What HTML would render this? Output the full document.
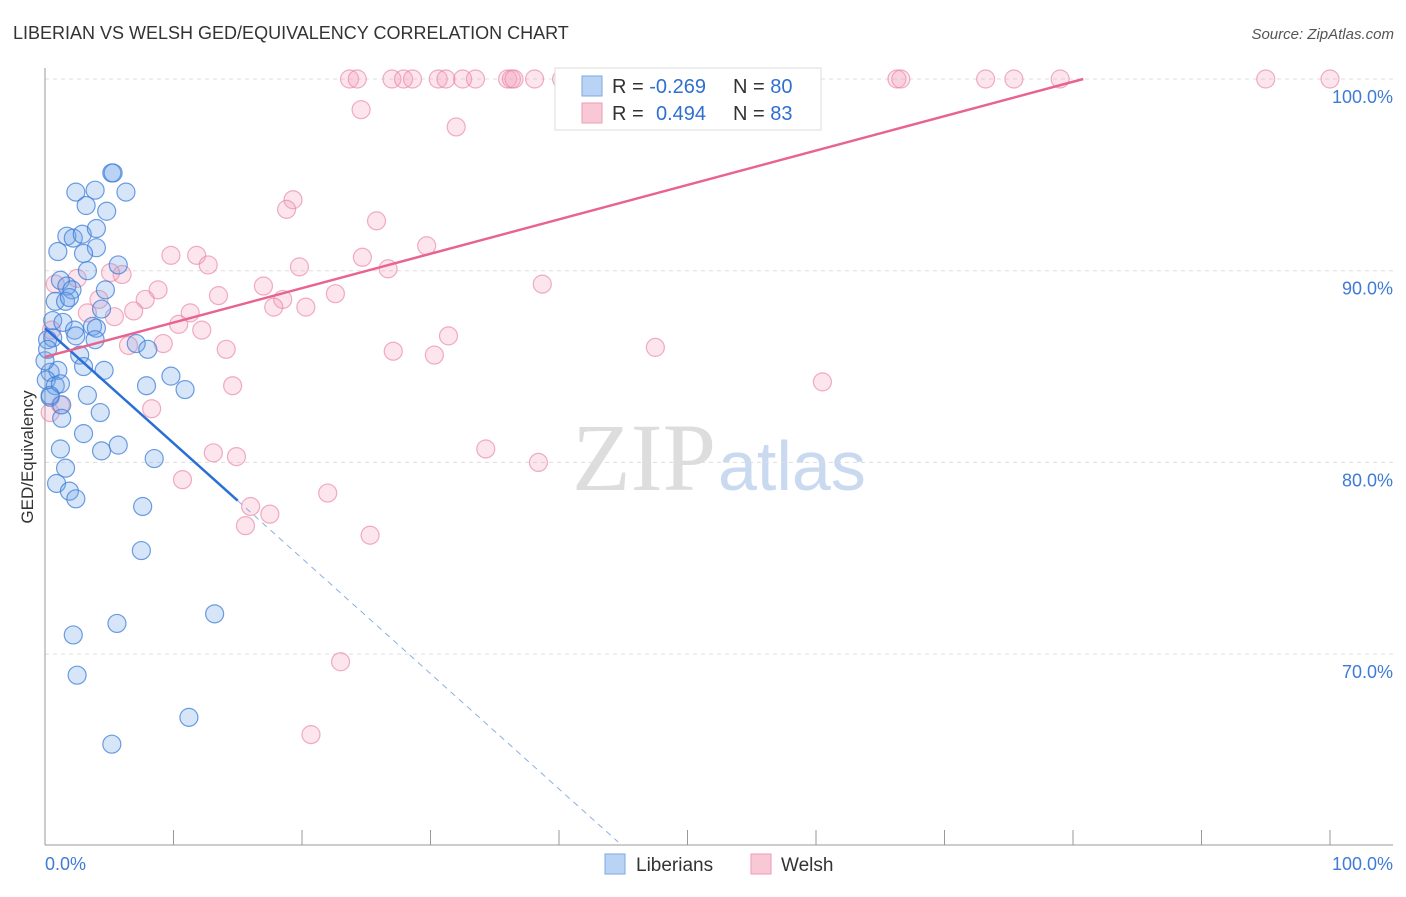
<!DOCTYPE html>
<html><head><meta charset="utf-8"><style>
body{margin:0;background:#fff;font-family:"Liberation Sans",sans-serif}
</style></head><body>
<svg id="chart" width="1406" height="892" viewBox="0 0 1406 892" xmlns="http://www.w3.org/2000/svg" font-family="Liberation Sans, sans-serif">
<text x="13" y="39" font-size="18" fill="#333">LIBERIAN VS WELSH GED/EQUIVALENCY CORRELATION CHART</text>
<text x="1394" y="39" font-size="15" fill="#555" text-anchor="end" font-style="italic">Source: ZipAtlas.com</text>
<text x="716" y="490" font-size="96" fill="#ddd" text-anchor="end" font-family="Liberation Serif, serif">ZIP</text>
<text x="718" y="490" font-size="70" fill="#c9daf0">atlas</text>
<g id="grid"></g>
<g id="axes"></g>
<g id="marks"></g>
<text transform="translate(33,457) rotate(-90)" font-size="17" fill="#333" text-anchor="middle">GED/Equivalency</text>
<g>
<rect x="555" y="68" width="266" height="62" fill="#fff" stroke="#ddd"/>
<rect x="582" y="76" width="20" height="20" fill="#b9d3f5" stroke="#7aa9e6"/>
<rect x="582" y="103" width="20" height="20" fill="#f9c8d6" stroke="#ee9ab4"/>
<text x="612" y="93" font-size="20" fill="#333">R = <tspan fill="#2f6fd0">-0.269</tspan><tspan x="733">N = </tspan><tspan fill="#2f6fd0">80</tspan></text>
<text x="612" y="120" font-size="20" fill="#333">R = <tspan x="656" fill="#2f6fd0">0.494</tspan><tspan x="733">N = </tspan><tspan fill="#2f6fd0">83</tspan></text>
</g>
<g>
<rect x="605" y="854" width="20" height="20" fill="#b9d3f5" stroke="#7aa9e6"/>
<text x="636" y="871" font-size="19" fill="#333">Liberians</text>
<rect x="751" y="854" width="20" height="20" fill="#f9c8d6" stroke="#ee9ab4"/>
<text x="781" y="871" font-size="19" fill="#333">Welsh</text>
</g>
</svg>
<script>
const blueX=[5.2,5.3,2.4,3.9,6.3,3.2,4.8,1.7,2.2,2.9,4.0,4.0,1.0,3.0,5.7,3.3,1.2,1.7,2.1,4.7,0.8,1.6,1.9,4.4,0.6,1.4,2.3,3.7,4.0,2.4,3.9,0.2,0.6,7.1,8.0,2.7,3.0,4.6,0.4,1.0,0.1,0.8,1.2,7.9,9.8,10.9,3.3,0.4,1.3,4.3,1.3,3.0,5.7,4.4,1.2,8.5,1.6,0.9,1.9,2.4,7.6,7.5,5.6,13.2,2.2,2.5,11.2,5.2,0,0.4,0.2];
const blueY=[95.1,95.1,94.1,94.2,94.1,93.4,93.1,91.8,91.7,91.9,92.2,91.2,91.0,90.9,90.3,90.0,89.5,89.2,89.0,89.0,88.4,88.4,88.6,88.0,87.4,87.3,86.9,87.1,87.0,86.6,86.4,86.4,86.5,86.2,85.9,85.6,85.0,84.8,84.7,84.8,84.3,84.0,84.1,84.0,84.5,83.8,83.5,83.4,83.0,82.6,82.3,81.5,80.9,80.6,80.7,80.2,79.7,78.9,78.5,78.1,77.7,75.4,71.6,72.1,71.0,68.9,66.7,65.3,85.3,83.5,85.9];
const pinkX=[23.7,24.3,27.0,27.9,28.6,30.6,31.2,32.5,33.5,36.0,36.3,36.5,38.1,40.2,41.2,44.0,44.7,54.2,66.3,66.6,73.2,75.4,79.0,95.0,100,24.6,32.0,19.3,18.8,25.8,11.8,9.8,12.7,19.8,26.7,24.7,29.7,6.0,5.1,2.5,17.0,38.7,8.8,13.5,7.8,4.2,6.9,5.4,18.5,17.8,20.3,22.6,11.3,10.4,12.2,3.3,9.2,6.5,14.1,27.1,30.3,31.4,47.5,14.6,60.5,8.3,1.2,0.4,34.3,38.4,13.1,14.9,10.7,22.0,16.0,17.5,15.6,25.3,23.0,20.7,0.8,0.5];
const pinkY=[100,100,100,100,100,100,100,100,100,100,100,100,100,100,100,100,100,100,100,100,100,100,100,100,100,98.4,97.5,93.7,93.2,92.6,90.8,90.8,90.3,90.2,90.1,90.7,91.3,89.8,89.9,89.6,89.2,89.3,89.0,88.7,88.5,88.5,87.9,87.6,88.5,88.1,88.1,88.8,87.8,87.2,86.9,87.8,86.2,86.1,85.9,85.8,85.6,86.6,86.0,84.0,84.2,82.8,83.0,82.6,80.7,80.0,80.5,80.3,79.1,78.4,77.7,77.3,76.7,76.2,69.6,65.8,89.3,86.9];
const yTicks=[100,90,80,70];
const yTickLabels=["100.0%","90.0%","80.0%","70.0%"];
const blueLine=[[0,87.0],[15,78.0],[44.6,60.2]];
const pinkLine=[[0,85.5],[80.8,100]];
const NS="http://www.w3.org/2000/svg";
const sx=v=>45+v*12.85, sy=v=>79+(100-v)*19.17;
function mk(t,a,p){const e=document.createElementNS(NS,t);for(const k in a)e.setAttribute(k,a[k]);p.appendChild(e);return e;}
const grid=document.getElementById('grid'),axes=document.getElementById('axes'),marks=document.getElementById('marks');
yTicks.forEach((t,i)=>{
 const l=mk('line',{x1:45,x2:1393,y1:sy(t),y2:sy(t),stroke:'#ddd','stroke-dasharray':'4,4'},grid);
 
 
 const tx=mk('text',{x:1393,y:sy(t)+24,'font-size':18,fill:'#3f7bd6','text-anchor':'end'},axes);
 tx.textContent=yTickLabels[i];
 
 
});
const ax=mk('line',{x1:45,x2:45,y1:68,y2:845,stroke:'#999'},axes);


const bx=mk('line',{x1:45,x2:1393,y1:845,y2:845,stroke:'#999'},axes);


for(let i=0;i<=10;i++){const t=mk('line',{x1:sx(i*10),x2:sx(i*10),y1:830,y2:845,stroke:'#999'},axes);
 
 }
[["0.0%",45,'start'],["100.0%",1393,'end']].forEach(d=>{const t=mk('text',{x:d[1],y:870,'font-size':18,fill:'#3f7bd6','text-anchor':d[2]},axes);t.textContent=d[0];
 
 });
pinkX.forEach((x,i)=>{const c=mk('circle',{cx:sx(x),cy:sy(pinkY[i]),r:9,fill:'rgba(244,160,188,0.28)',stroke:'rgba(232,130,165,0.65)','stroke-width':1.2},marks);
 
 });
blueX.forEach((x,i)=>{const c=mk('circle',{cx:sx(x),cy:sy(blueY[i]),r:9,fill:'rgba(110,160,235,0.28)',stroke:'rgba(60,125,215,0.75)','stroke-width':1.2},marks);
 
 });
const b1=mk('line',{x1:sx(blueLine[0][0]),y1:sy(blueLine[0][1]),x2:sx(blueLine[1][0]),y2:sy(blueLine[1][1]),stroke:'#2a6fd6','stroke-width':2.5},marks);


const b2=mk('line',{x1:sx(blueLine[1][0]),y1:sy(blueLine[1][1]),x2:sx(blueLine[2][0]),y2:sy(blueLine[2][1]),stroke:'#8ab0e0','stroke-width':1,'stroke-dasharray':'6,5'},marks);


const p1=mk('line',{x1:sx(pinkLine[0][0]),y1:sy(pinkLine[0][1]),x2:sx(pinkLine[1][0]),y2:sy(pinkLine[1][1]),stroke:'#e8638f','stroke-width':2.5},marks);


</script>
</body></html>
